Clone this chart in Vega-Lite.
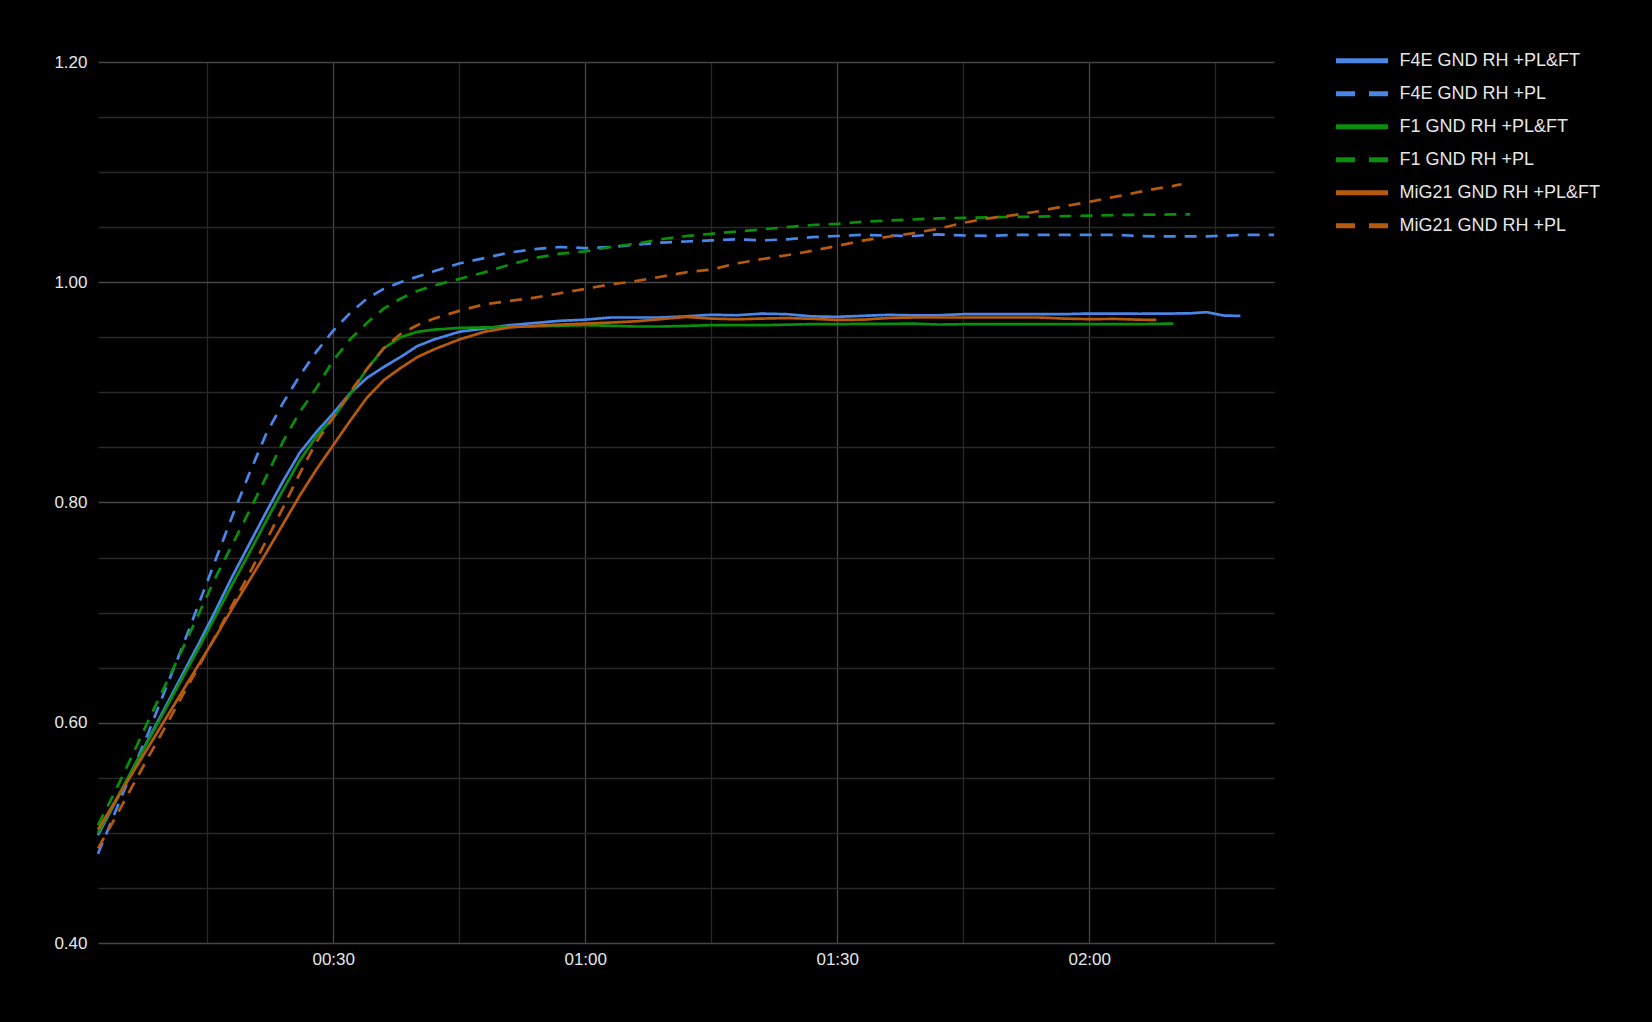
{
  "$schema": "https://vega.github.io/schema/vega-lite/v6.json",
  "width": 1176,
  "height": 881,
  "autosize": {"type": "none"},
  "padding": {"left": 98, "top": 62, "right": 378, "bottom": 79},
  "background": "#000000",
  "config": {"view": {"stroke": null}, "font": "Liberation Sans"},
  "datasets": {
    "rows": [
      {"s":"F4E GND RH +PL&FT","t":2,"v":0.498},{"s":"F4E GND RH +PL&FT","t":4,"v":0.527},{"s":"F4E GND RH +PL&FT","t":6,"v":0.556},{"s":"F4E GND RH +PL&FT","t":8,"v":0.585},{"s":"F4E GND RH +PL&FT","t":10,"v":0.614},{"s":"F4E GND RH +PL&FT","t":12,"v":0.643},{"s":"F4E GND RH +PL&FT","t":14,"v":0.672},{"s":"F4E GND RH +PL&FT","t":16,"v":0.702},{"s":"F4E GND RH +PL&FT","t":18,"v":0.733},{"s":"F4E GND RH +PL&FT","t":20,"v":0.762},{"s":"F4E GND RH +PL&FT","t":22,"v":0.791},{"s":"F4E GND RH +PL&FT","t":24,"v":0.819},{"s":"F4E GND RH +PL&FT","t":26,"v":0.845},{"s":"F4E GND RH +PL&FT","t":28,"v":0.864},{"s":"F4E GND RH +PL&FT","t":30,"v":0.881},{"s":"F4E GND RH +PL&FT","t":32,"v":0.899},{"s":"F4E GND RH +PL&FT","t":34,"v":0.913},{"s":"F4E GND RH +PL&FT","t":36,"v":0.923},{"s":"F4E GND RH +PL&FT","t":38,"v":0.932},{"s":"F4E GND RH +PL&FT","t":40,"v":0.942},{"s":"F4E GND RH +PL&FT","t":42,"v":0.948},
      {"s":"F4E GND RH +PL&FT","t":45,"v":0.955},{"s":"F4E GND RH +PL&FT","t":48,"v":0.958},{"s":"F4E GND RH +PL&FT","t":51,"v":0.961},{"s":"F4E GND RH +PL&FT","t":54,"v":0.963},{"s":"F4E GND RH +PL&FT","t":57,"v":0.965},{"s":"F4E GND RH +PL&FT","t":60,"v":0.966},{"s":"F4E GND RH +PL&FT","t":63,"v":0.968},{"s":"F4E GND RH +PL&FT","t":66,"v":0.968},{"s":"F4E GND RH +PL&FT","t":69,"v":0.968},{"s":"F4E GND RH +PL&FT","t":72,"v":0.969},{"s":"F4E GND RH +PL&FT","t":75,"v":0.9705},{"s":"F4E GND RH +PL&FT","t":78,"v":0.970},{"s":"F4E GND RH +PL&FT","t":81,"v":0.9715},{"s":"F4E GND RH +PL&FT","t":84,"v":0.971},{"s":"F4E GND RH +PL&FT","t":87,"v":0.969},{"s":"F4E GND RH +PL&FT","t":90,"v":0.9686},{"s":"F4E GND RH +PL&FT","t":93,"v":0.9695},{"s":"F4E GND RH +PL&FT","t":96,"v":0.9704},{"s":"F4E GND RH +PL&FT","t":99,"v":0.970},{"s":"F4E GND RH +PL&FT","t":102,"v":0.970},{"s":"F4E GND RH +PL&FT","t":105,"v":0.971},{"s":"F4E GND RH +PL&FT","t":108,"v":0.971},{"s":"F4E GND RH +PL&FT","t":111,"v":0.971},{"s":"F4E GND RH +PL&FT","t":114,"v":0.971},{"s":"F4E GND RH +PL&FT","t":117,"v":0.971},{"s":"F4E GND RH +PL&FT","t":120,"v":0.9716},{"s":"F4E GND RH +PL&FT","t":123,"v":0.9716},{"s":"F4E GND RH +PL&FT","t":126,"v":0.9714},{"s":"F4E GND RH +PL&FT","t":128,"v":0.9716},{"s":"F4E GND RH +PL&FT","t":130,"v":0.9716},{"s":"F4E GND RH +PL&FT","t":132,"v":0.9718},{"s":"F4E GND RH +PL&FT","t":134,"v":0.9728},{"s":"F4E GND RH +PL&FT","t":136,"v":0.9698},{"s":"F4E GND RH +PL&FT","t":138,"v":0.9694},

      {"s":"F4E GND RH +PL","t":2,"v":0.481},{"s":"F4E GND RH +PL","t":4,"v":0.518},{"s":"F4E GND RH +PL","t":6,"v":0.555},{"s":"F4E GND RH +PL","t":8,"v":0.591},{"s":"F4E GND RH +PL","t":10,"v":0.630},{"s":"F4E GND RH +PL","t":12,"v":0.668},{"s":"F4E GND RH +PL","t":14,"v":0.708},{"s":"F4E GND RH +PL","t":16,"v":0.748},{"s":"F4E GND RH +PL","t":18,"v":0.788},{"s":"F4E GND RH +PL","t":20,"v":0.826},{"s":"F4E GND RH +PL","t":22,"v":0.862},{"s":"F4E GND RH +PL","t":24,"v":0.890},{"s":"F4E GND RH +PL","t":26,"v":0.915},{"s":"F4E GND RH +PL","t":28,"v":0.937},{"s":"F4E GND RH +PL","t":30,"v":0.956},{"s":"F4E GND RH +PL","t":32,"v":0.972},{"s":"F4E GND RH +PL","t":34,"v":0.985},{"s":"F4E GND RH +PL","t":36,"v":0.994},{"s":"F4E GND RH +PL","t":38,"v":1.000},{"s":"F4E GND RH +PL","t":40,"v":1.005},{"s":"F4E GND RH +PL","t":42,"v":1.010},
      {"s":"F4E GND RH +PL","t":45,"v":1.017},{"s":"F4E GND RH +PL","t":48,"v":1.022},{"s":"F4E GND RH +PL","t":51,"v":1.027},{"s":"F4E GND RH +PL","t":54,"v":1.030},{"s":"F4E GND RH +PL","t":57,"v":1.032},{"s":"F4E GND RH +PL","t":60,"v":1.031},{"s":"F4E GND RH +PL","t":63,"v":1.032},{"s":"F4E GND RH +PL","t":66,"v":1.034},{"s":"F4E GND RH +PL","t":69,"v":1.036},{"s":"F4E GND RH +PL","t":72,"v":1.037},{"s":"F4E GND RH +PL","t":75,"v":1.038},{"s":"F4E GND RH +PL","t":78,"v":1.039},{"s":"F4E GND RH +PL","t":81,"v":1.038},{"s":"F4E GND RH +PL","t":84,"v":1.039},{"s":"F4E GND RH +PL","t":87,"v":1.041},{"s":"F4E GND RH +PL","t":90,"v":1.042},{"s":"F4E GND RH +PL","t":93,"v":1.043},{"s":"F4E GND RH +PL","t":96,"v":1.0425},{"s":"F4E GND RH +PL","t":99,"v":1.042},{"s":"F4E GND RH +PL","t":102,"v":1.0435},{"s":"F4E GND RH +PL","t":105,"v":1.0425},{"s":"F4E GND RH +PL","t":108,"v":1.042},{"s":"F4E GND RH +PL","t":111,"v":1.043},{"s":"F4E GND RH +PL","t":114,"v":1.043},{"s":"F4E GND RH +PL","t":117,"v":1.043},{"s":"F4E GND RH +PL","t":120,"v":1.043},{"s":"F4E GND RH +PL","t":123,"v":1.043},{"s":"F4E GND RH +PL","t":126,"v":1.042},{"s":"F4E GND RH +PL","t":128,"v":1.0417},{"s":"F4E GND RH +PL","t":130,"v":1.0417},{"s":"F4E GND RH +PL","t":132,"v":1.0417},{"s":"F4E GND RH +PL","t":134,"v":1.0417},{"s":"F4E GND RH +PL","t":136,"v":1.0422},{"s":"F4E GND RH +PL","t":138,"v":1.043},{"s":"F4E GND RH +PL","t":140,"v":1.043},{"s":"F4E GND RH +PL","t":142,"v":1.043},

      {"s":"F1 GND RH +PL&FT","t":2,"v":0.500},{"s":"F1 GND RH +PL&FT","t":4,"v":0.528},{"s":"F1 GND RH +PL&FT","t":6,"v":0.556},{"s":"F1 GND RH +PL&FT","t":8,"v":0.584},{"s":"F1 GND RH +PL&FT","t":10,"v":0.612},{"s":"F1 GND RH +PL&FT","t":12,"v":0.640},{"s":"F1 GND RH +PL&FT","t":14,"v":0.668},{"s":"F1 GND RH +PL&FT","t":16,"v":0.697},{"s":"F1 GND RH +PL&FT","t":18,"v":0.726},{"s":"F1 GND RH +PL&FT","t":20,"v":0.754},{"s":"F1 GND RH +PL&FT","t":22,"v":0.783},{"s":"F1 GND RH +PL&FT","t":24,"v":0.811},{"s":"F1 GND RH +PL&FT","t":26,"v":0.838},{"s":"F1 GND RH +PL&FT","t":28,"v":0.860},{"s":"F1 GND RH +PL&FT","t":30,"v":0.877},{"s":"F1 GND RH +PL&FT","t":32,"v":0.898},{"s":"F1 GND RH +PL&FT","t":34,"v":0.921},{"s":"F1 GND RH +PL&FT","t":36,"v":0.940},{"s":"F1 GND RH +PL&FT","t":38,"v":0.950},{"s":"F1 GND RH +PL&FT","t":40,"v":0.955},{"s":"F1 GND RH +PL&FT","t":42,"v":0.957},
      {"s":"F1 GND RH +PL&FT","t":45,"v":0.9585},{"s":"F1 GND RH +PL&FT","t":48,"v":0.959},{"s":"F1 GND RH +PL&FT","t":51,"v":0.9595},{"s":"F1 GND RH +PL&FT","t":54,"v":0.960},{"s":"F1 GND RH +PL&FT","t":57,"v":0.9605},{"s":"F1 GND RH +PL&FT","t":60,"v":0.961},{"s":"F1 GND RH +PL&FT","t":63,"v":0.9605},{"s":"F1 GND RH +PL&FT","t":66,"v":0.9598},{"s":"F1 GND RH +PL&FT","t":69,"v":0.9598},{"s":"F1 GND RH +PL&FT","t":72,"v":0.9604},{"s":"F1 GND RH +PL&FT","t":75,"v":0.961},{"s":"F1 GND RH +PL&FT","t":78,"v":0.961},{"s":"F1 GND RH +PL&FT","t":81,"v":0.961},{"s":"F1 GND RH +PL&FT","t":84,"v":0.9615},{"s":"F1 GND RH +PL&FT","t":87,"v":0.962},{"s":"F1 GND RH +PL&FT","t":90,"v":0.962},{"s":"F1 GND RH +PL&FT","t":93,"v":0.9622},{"s":"F1 GND RH +PL&FT","t":96,"v":0.9622},{"s":"F1 GND RH +PL&FT","t":99,"v":0.9625},{"s":"F1 GND RH +PL&FT","t":102,"v":0.9616},{"s":"F1 GND RH +PL&FT","t":105,"v":0.9619},{"s":"F1 GND RH +PL&FT","t":108,"v":0.962},{"s":"F1 GND RH +PL&FT","t":111,"v":0.962},{"s":"F1 GND RH +PL&FT","t":114,"v":0.962},{"s":"F1 GND RH +PL&FT","t":117,"v":0.962},{"s":"F1 GND RH +PL&FT","t":120,"v":0.962},{"s":"F1 GND RH +PL&FT","t":123,"v":0.962},{"s":"F1 GND RH +PL&FT","t":126,"v":0.962},{"s":"F1 GND RH +PL&FT","t":128,"v":0.9622},{"s":"F1 GND RH +PL&FT","t":130,"v":0.9625},

      {"s":"F1 GND RH +PL","t":2,"v":0.507},{"s":"F1 GND RH +PL","t":4,"v":0.537},{"s":"F1 GND RH +PL","t":6,"v":0.569},{"s":"F1 GND RH +PL","t":8,"v":0.602},{"s":"F1 GND RH +PL","t":10,"v":0.634},{"s":"F1 GND RH +PL","t":12,"v":0.666},{"s":"F1 GND RH +PL","t":14,"v":0.699},{"s":"F1 GND RH +PL","t":16,"v":0.732},{"s":"F1 GND RH +PL","t":18,"v":0.762},{"s":"F1 GND RH +PL","t":20,"v":0.792},{"s":"F1 GND RH +PL","t":22,"v":0.823},{"s":"F1 GND RH +PL","t":24,"v":0.855},{"s":"F1 GND RH +PL","t":26,"v":0.882},{"s":"F1 GND RH +PL","t":28,"v":0.904},{"s":"F1 GND RH +PL","t":30,"v":0.929},{"s":"F1 GND RH +PL","t":32,"v":0.948},{"s":"F1 GND RH +PL","t":34,"v":0.963},{"s":"F1 GND RH +PL","t":36,"v":0.976},{"s":"F1 GND RH +PL","t":38,"v":0.985},{"s":"F1 GND RH +PL","t":40,"v":0.992},{"s":"F1 GND RH +PL","t":42,"v":0.997},
      {"s":"F1 GND RH +PL","t":45,"v":1.003},{"s":"F1 GND RH +PL","t":48,"v":1.009},{"s":"F1 GND RH +PL","t":51,"v":1.016},{"s":"F1 GND RH +PL","t":54,"v":1.022},{"s":"F1 GND RH +PL","t":57,"v":1.026},{"s":"F1 GND RH +PL","t":60,"v":1.028},{"s":"F1 GND RH +PL","t":63,"v":1.032},{"s":"F1 GND RH +PL","t":66,"v":1.035},{"s":"F1 GND RH +PL","t":69,"v":1.039},{"s":"F1 GND RH +PL","t":72,"v":1.042},{"s":"F1 GND RH +PL","t":75,"v":1.044},{"s":"F1 GND RH +PL","t":78,"v":1.046},{"s":"F1 GND RH +PL","t":81,"v":1.048},{"s":"F1 GND RH +PL","t":84,"v":1.050},{"s":"F1 GND RH +PL","t":87,"v":1.052},{"s":"F1 GND RH +PL","t":90,"v":1.053},{"s":"F1 GND RH +PL","t":93,"v":1.055},{"s":"F1 GND RH +PL","t":96,"v":1.056},{"s":"F1 GND RH +PL","t":99,"v":1.057},{"s":"F1 GND RH +PL","t":102,"v":1.058},{"s":"F1 GND RH +PL","t":105,"v":1.0585},{"s":"F1 GND RH +PL","t":108,"v":1.059},{"s":"F1 GND RH +PL","t":111,"v":1.0593},{"s":"F1 GND RH +PL","t":114,"v":1.0596},{"s":"F1 GND RH +PL","t":117,"v":1.060},{"s":"F1 GND RH +PL","t":120,"v":1.0605},{"s":"F1 GND RH +PL","t":123,"v":1.061},{"s":"F1 GND RH +PL","t":126,"v":1.0613},{"s":"F1 GND RH +PL","t":128,"v":1.0614},{"s":"F1 GND RH +PL","t":130,"v":1.0616},{"s":"F1 GND RH +PL","t":132,"v":1.0617},

      {"s":"MiG21 GND RH +PL&FT","t":2,"v":0.503},{"s":"MiG21 GND RH +PL&FT","t":4,"v":0.528},{"s":"MiG21 GND RH +PL&FT","t":6,"v":0.553},{"s":"MiG21 GND RH +PL&FT","t":8,"v":0.578},{"s":"MiG21 GND RH +PL&FT","t":10,"v":0.603},{"s":"MiG21 GND RH +PL&FT","t":12,"v":0.628},{"s":"MiG21 GND RH +PL&FT","t":14,"v":0.653},{"s":"MiG21 GND RH +PL&FT","t":16,"v":0.678},{"s":"MiG21 GND RH +PL&FT","t":18,"v":0.704},{"s":"MiG21 GND RH +PL&FT","t":20,"v":0.729},{"s":"MiG21 GND RH +PL&FT","t":22,"v":0.754},{"s":"MiG21 GND RH +PL&FT","t":24,"v":0.780},{"s":"MiG21 GND RH +PL&FT","t":26,"v":0.806},{"s":"MiG21 GND RH +PL&FT","t":28,"v":0.830},{"s":"MiG21 GND RH +PL&FT","t":30,"v":0.852},{"s":"MiG21 GND RH +PL&FT","t":32,"v":0.874},{"s":"MiG21 GND RH +PL&FT","t":34,"v":0.895},{"s":"MiG21 GND RH +PL&FT","t":36,"v":0.911},{"s":"MiG21 GND RH +PL&FT","t":38,"v":0.922},{"s":"MiG21 GND RH +PL&FT","t":40,"v":0.932},{"s":"MiG21 GND RH +PL&FT","t":42,"v":0.939},
      {"s":"MiG21 GND RH +PL&FT","t":45,"v":0.948},{"s":"MiG21 GND RH +PL&FT","t":48,"v":0.955},{"s":"MiG21 GND RH +PL&FT","t":51,"v":0.959},{"s":"MiG21 GND RH +PL&FT","t":54,"v":0.9605},{"s":"MiG21 GND RH +PL&FT","t":57,"v":0.9615},{"s":"MiG21 GND RH +PL&FT","t":60,"v":0.9625},{"s":"MiG21 GND RH +PL&FT","t":63,"v":0.9634},{"s":"MiG21 GND RH +PL&FT","t":66,"v":0.9645},{"s":"MiG21 GND RH +PL&FT","t":69,"v":0.9665},{"s":"MiG21 GND RH +PL&FT","t":72,"v":0.9685},{"s":"MiG21 GND RH +PL&FT","t":75,"v":0.967},{"s":"MiG21 GND RH +PL&FT","t":78,"v":0.9664},{"s":"MiG21 GND RH +PL&FT","t":81,"v":0.967},{"s":"MiG21 GND RH +PL&FT","t":84,"v":0.9675},{"s":"MiG21 GND RH +PL&FT","t":87,"v":0.9668},{"s":"MiG21 GND RH +PL&FT","t":90,"v":0.9658},{"s":"MiG21 GND RH +PL&FT","t":93,"v":0.966},{"s":"MiG21 GND RH +PL&FT","t":96,"v":0.9675},{"s":"MiG21 GND RH +PL&FT","t":99,"v":0.968},{"s":"MiG21 GND RH +PL&FT","t":102,"v":0.968},{"s":"MiG21 GND RH +PL&FT","t":105,"v":0.968},{"s":"MiG21 GND RH +PL&FT","t":108,"v":0.968},{"s":"MiG21 GND RH +PL&FT","t":111,"v":0.968},{"s":"MiG21 GND RH +PL&FT","t":114,"v":0.968},{"s":"MiG21 GND RH +PL&FT","t":117,"v":0.967},{"s":"MiG21 GND RH +PL&FT","t":120,"v":0.9665},{"s":"MiG21 GND RH +PL&FT","t":123,"v":0.9667},{"s":"MiG21 GND RH +PL&FT","t":126,"v":0.966},{"s":"MiG21 GND RH +PL&FT","t":128,"v":0.9658},

      {"s":"MiG21 GND RH +PL","t":2,"v":0.486},{"s":"MiG21 GND RH +PL","t":4,"v":0.513},{"s":"MiG21 GND RH +PL","t":6,"v":0.541},{"s":"MiG21 GND RH +PL","t":8,"v":0.569},{"s":"MiG21 GND RH +PL","t":10,"v":0.596},{"s":"MiG21 GND RH +PL","t":12,"v":0.624},{"s":"MiG21 GND RH +PL","t":14,"v":0.651},{"s":"MiG21 GND RH +PL","t":16,"v":0.679},{"s":"MiG21 GND RH +PL","t":18,"v":0.707},{"s":"MiG21 GND RH +PL","t":20,"v":0.735},{"s":"MiG21 GND RH +PL","t":22,"v":0.765},{"s":"MiG21 GND RH +PL","t":24,"v":0.795},{"s":"MiG21 GND RH +PL","t":26,"v":0.826},{"s":"MiG21 GND RH +PL","t":28,"v":0.855},{"s":"MiG21 GND RH +PL","t":30,"v":0.877},{"s":"MiG21 GND RH +PL","t":32,"v":0.900},{"s":"MiG21 GND RH +PL","t":34,"v":0.921},{"s":"MiG21 GND RH +PL","t":36,"v":0.940},{"s":"MiG21 GND RH +PL","t":38,"v":0.953},{"s":"MiG21 GND RH +PL","t":40,"v":0.961},{"s":"MiG21 GND RH +PL","t":42,"v":0.967},
      {"s":"MiG21 GND RH +PL","t":45,"v":0.974},{"s":"MiG21 GND RH +PL","t":48,"v":0.980},{"s":"MiG21 GND RH +PL","t":51,"v":0.983},{"s":"MiG21 GND RH +PL","t":54,"v":0.986},{"s":"MiG21 GND RH +PL","t":57,"v":0.990},{"s":"MiG21 GND RH +PL","t":60,"v":0.994},{"s":"MiG21 GND RH +PL","t":63,"v":0.998},{"s":"MiG21 GND RH +PL","t":66,"v":1.001},{"s":"MiG21 GND RH +PL","t":69,"v":1.005},{"s":"MiG21 GND RH +PL","t":72,"v":1.009},{"s":"MiG21 GND RH +PL","t":75,"v":1.0115},{"s":"MiG21 GND RH +PL","t":78,"v":1.017},{"s":"MiG21 GND RH +PL","t":81,"v":1.021},{"s":"MiG21 GND RH +PL","t":84,"v":1.0245},{"s":"MiG21 GND RH +PL","t":87,"v":1.0285},{"s":"MiG21 GND RH +PL","t":90,"v":1.033},{"s":"MiG21 GND RH +PL","t":93,"v":1.0378},{"s":"MiG21 GND RH +PL","t":96,"v":1.0413},{"s":"MiG21 GND RH +PL","t":99,"v":1.0445},{"s":"MiG21 GND RH +PL","t":102,"v":1.0485},{"s":"MiG21 GND RH +PL","t":105,"v":1.054},{"s":"MiG21 GND RH +PL","t":108,"v":1.058},{"s":"MiG21 GND RH +PL","t":111,"v":1.061},{"s":"MiG21 GND RH +PL","t":114,"v":1.0645},{"s":"MiG21 GND RH +PL","t":117,"v":1.069},{"s":"MiG21 GND RH +PL","t":120,"v":1.073},{"s":"MiG21 GND RH +PL","t":123,"v":1.0775},{"s":"MiG21 GND RH +PL","t":126,"v":1.082},{"s":"MiG21 GND RH +PL","t":128,"v":1.085},{"s":"MiG21 GND RH +PL","t":130,"v":1.0875},{"s":"MiG21 GND RH +PL","t":131,"v":1.089}
    ]
  },
  "data": {"name": "rows"},
  "mark": {"type": "line", "strokeWidth": 2.7},
  "encoding": {
    "x": {
      "field": "t", "type": "quantitative",
      "scale": {"domain": [2, 142], "nice": false, "zero": false},
      "axis": {
        "title": null, "values": [15, 30, 45, 60, 75, 90, 105, 120, 135],
        "domain": false, "ticks": false, "tickSize": 0,
        "labelExpr": "datum.value % 30 == 0 ? format(floor(datum.value / 60), '02d') + ':' + format(datum.value % 60, '02d') : ''",
        "labelFontSize": 17, "labelColor": "#e6e6e6", "labelPadding": 8,
        "gridColor": {"condition": {"test": "datum.value % 30 == 0", "value": "#454545"}, "value": "#282828"},
        "gridWidth": 1.3
      }
    },
    "y": {
      "field": "v", "type": "quantitative",
      "scale": {"domain": [0.4, 1.2], "nice": false, "zero": false},
      "axis": {
        "title": null,
        "values": [0.4, 0.45, 0.5, 0.55, 0.6, 0.65, 0.7, 0.75, 0.8, 0.85, 0.9, 0.95, 1.0, 1.05, 1.1, 1.15, 1.2],
        "domain": false, "ticks": false, "tickSize": 0,
        "labelExpr": "abs(datum.value * 5 - round(datum.value * 5)) < 0.001 ? format(datum.value, '.2f') : ''",
        "labelFontSize": 17, "labelColor": "#e6e6e6", "labelPadding": 11,
        "gridColor": {"condition": {"test": "abs(datum.value * 5 - round(datum.value * 5)) < 0.001", "value": "#454545"}, "value": "#282828"},
        "gridWidth": 1.3
      }
    },
    "color": {
      "field": "s", "type": "nominal",
      "scale": {
        "domain": ["F4E GND RH +PL&FT", "F4E GND RH +PL", "F1 GND RH +PL&FT", "F1 GND RH +PL", "MiG21 GND RH +PL&FT", "MiG21 GND RH +PL"],
        "range": ["#4a86e8", "#4a86e8", "#0a8f0a", "#0a8f0a", "#b85a0d", "#b85a0d"]
      },
      "legend": {
        "title": null, "orient": "none", "legendX": 1251.5, "legendY": -13.8, "padding": 0,
        "symbolType": "M-2.6,0H2.6", "symbolSize": 400, "symbolStrokeWidth": 5,
        "symbolDash": {"expr": "indexof(datum.label, '&FT') >= 0 ? [1, 0] : [19, 14]"},
        "labelFontSize": 18, "labelColor": "#e6e6e6", "labelOffset": 25, "rowPadding": 10, "labelLimit": 400
      }
    },
    "strokeDash": {
      "field": "s", "type": "nominal",
      "scale": {
        "domain": ["F4E GND RH +PL", "F4E GND RH +PL&FT", "F1 GND RH +PL", "F1 GND RH +PL&FT", "MiG21 GND RH +PL", "MiG21 GND RH +PL&FT"],
        "range": [[12, 9], [1, 0], [12, 9], [1, 0], [12, 9], [1, 0]]
      },
      "legend": null
    }
  }
}
